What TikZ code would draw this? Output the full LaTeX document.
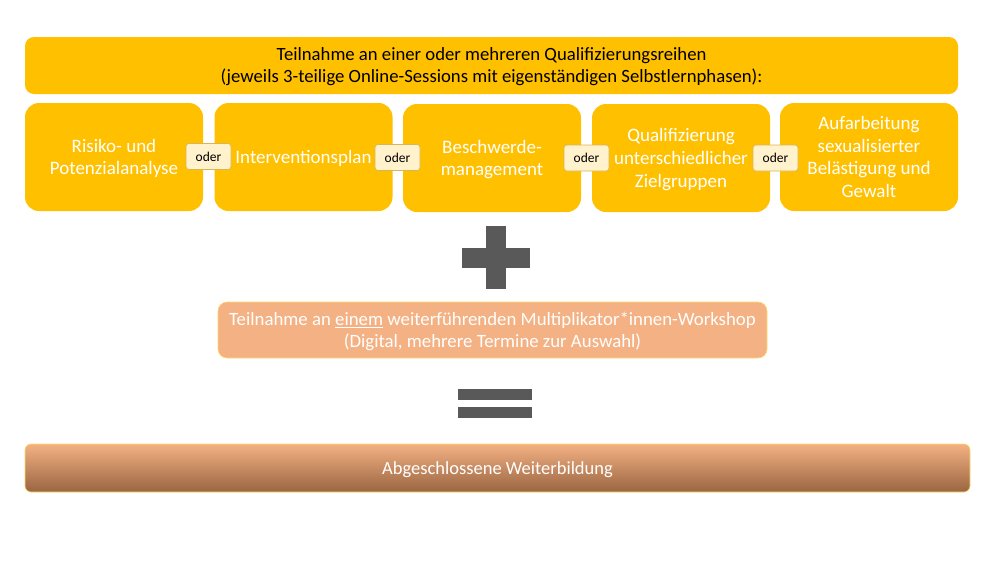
\documentclass[tikz,border=0pt]{standalone}
\usepackage{fontspec}
\setmainfont{Carlito}
\definecolor{gold}{HTML}{FFC000}
\definecolor{odfill}{HTML}{FFF2CC}
\definecolor{oddraw}{HTML}{D6B656}
\definecolor{peach}{HTML}{F4B183}
\definecolor{peachedge}{HTML}{FFD966}
\definecolor{darkbrown}{HTML}{996541}
\definecolor{signgray}{HTML}{595959}
\newcommand\tstr{\rule{0pt}{0.95em}}
\newcommand\bstr{\rule[-0.27em]{0pt}{0.27em}}
\begin{document}
\begin{tikzpicture}[x=1pt,y=-1pt,
  topbar/.style={fill=gold,rounded corners=9pt,minimum width=933pt,minimum height=57pt,inner sep=0pt,align=center,font=\fontsize{18.7}{22}\selectfont,text=black},
  choice/.style={fill=gold,rounded corners=14pt,minimum width=178pt,minimum height=108pt,inner sep=0pt,align=center,font=\fontsize{19}{22.7}\selectfont,text=white},
  oderbox/.style={fill=odfill,draw=oddraw,line width=0.6pt,rounded corners=3pt,minimum width=45pt,minimum height=26pt,inner sep=0pt,font=\fontsize{13.5}{15}\selectfont,text=black},
  workshop/.style={fill=peach,draw=peachedge,line width=0.6pt,rounded corners=9pt,minimum width=549pt,minimum height=56pt,inner sep=0pt,align=center,font=\fontsize{18.8}{22}\selectfont,text=white},
  result/.style={top color=peach,bottom color=darkbrown,draw=peachedge,line width=0.6pt,rounded corners=6pt,minimum width=945pt,minimum height=48pt,inner sep=0pt,font=\fontsize{18.5}{20}\selectfont,text=white},
  sign/.style={fill=signgray,draw=none}]
\useasboundingbox (0,0) rectangle (1000,563);
\node[topbar] (top) at (491.5,65.5) {\tstr Teilnahme an einer oder mehreren Qualifizierungsreihen\\(jeweils 3-teilige Online-Sessions mit eigenständigen Selbstlernphasen):\bstr};
\node[choice] (c1) at (114,157) {\tstr Risiko- und\\Potenzialanalyse\bstr};
\node[choice] (c2) at (303.5,157) {\tstr Interventionsplan\bstr};
\node[choice] (c3) at (492,158) {\tstr Beschwerde-\\management\bstr};
\node[choice] (c4) at (681,158) {\tstr Qualifizierung\\unterschiedlicher\\Zielgruppen\bstr};
\node[choice] (c5) at (869,157) {\tstr Aufarbeitung\\sexualisierter\\Belästigung und\\Gewalt\bstr};
\node[oderbox] (o1) at (208.5,156.5) {\tstr oder\bstr};
\node[oderbox] (o2) at (397.5,157.5) {\tstr oder\bstr};
\node[oderbox] (o3) at (586.5,158) {\tstr oder\bstr};
\node[oderbox] (o4) at (775.5,158) {\tstr oder\bstr};
\node[sign,minimum width=68pt,minimum height=20pt,inner sep=0pt] (plush) at (496,257.5) {};
\node[sign,minimum width=20pt,minimum height=63pt,inner sep=0pt] (plusv) at (496,257.5) {};
\node[workshop] (ws) at (492.5,330) {\tstr Teilnahme an \underline{einem} weiterführenden Multiplikator*innen-Workshop\\(Digital, mehrere Termine zur Auswahl)\bstr};
\node[sign,minimum width=74pt,minimum height=11pt,inner sep=0pt] (eq1) at (495,394.5) {};
\node[sign,minimum width=74pt,minimum height=11pt,inner sep=0pt] (eq2) at (495,412.5) {};
\node[result] (res) at (497.5,468) {\tstr Abgeschlossene Weiterbildung\bstr};
\end{tikzpicture}
\end{document}
